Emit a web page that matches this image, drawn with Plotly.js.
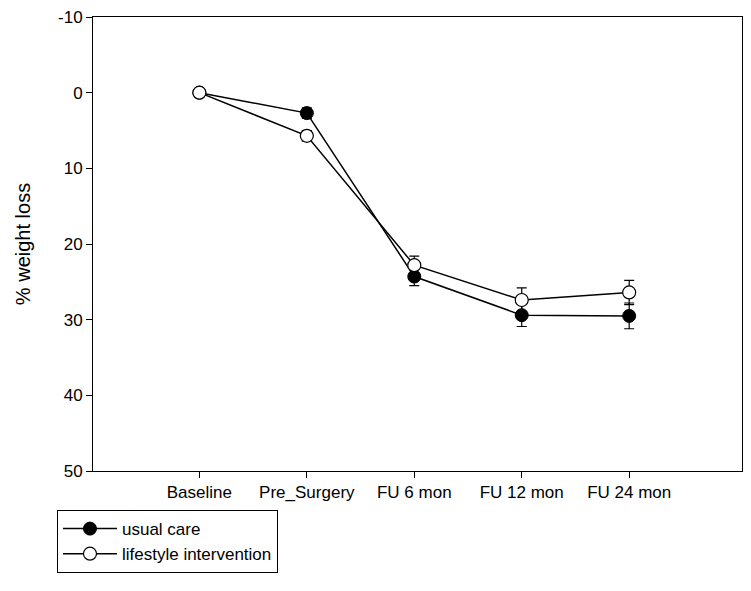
<!DOCTYPE html>
<html><head><meta charset="utf-8">
<script src="https://cdn.plot.ly/plotly-3.0.1.min.js"></script>
<style>html,body{margin:0;padding:0;background:#fff}</style>
</head><body><div id="chart" style="width:751px;height:591px"></div>
<script>
const categories = ["Baseline", "Pre_Surgery", "FU 6 mon", "FU 12 mon", "FU 24 mon"];
const usualCare = [0, 2.7, 24.3, 29.4, 29.5];
const usualCareErr = [0, 0.7, 1.2, 1.5, 1.7];
const lifestyle = [0, 5.7, 22.8, 27.4, 26.4];
const lifestyleErr = [0, 0.7, 1.2, 1.6, 1.6];
const yTicks = [-10, 0, 10, 20, 30, 40, 50];
const yTickText = ["-10", "0", "10", "20", "30", "40", "50"];

const font = {family: "Liberation Sans, Arial, sans-serif", size: 17, color: "#000"};
const traces = [
  {x: categories, y: usualCare, name: "usual care", mode: "lines+markers",
   line: {color: "#000", width: 1.5},
   marker: {symbol: "circle", size: 13, color: "#000", line: {color: "#000", width: 1}},
   error_y: {type: "data", array: usualCareErr, visible: true, color: "#000", thickness: 1.2, width: 5}},
  {x: categories, y: lifestyle, name: "lifestyle intervention", mode: "lines+markers",
   line: {color: "#000", width: 1.5},
   marker: {symbol: "circle", size: 13, color: "#fff", line: {color: "#000", width: 1.2}},
   error_y: {type: "data", array: lifestyleErr, visible: true, color: "#000", thickness: 1.2, width: 5}}
];
const layout = {
  width: 751, height: 591,
  margin: {l: 93, r: 9, t: 17, b: 120},
  paper_bgcolor: "#fff", plot_bgcolor: "#fff",
  font: font,
  showlegend: true,
  legend: {x: -0.0555, y: -0.086, xanchor: "left", yanchor: "top", itemwidth: 54,
    bordercolor: "#000", borderwidth: 1, bgcolor: "#fff", font: font, tracegroupgap: 0},
  xaxis: {type: "category", range: [-0.99, 5.05], showgrid: false, zeroline: false,
    showline: true, linecolor: "#000", linewidth: 1, mirror: true,
    ticks: "outside", ticklen: 6, tickcolor: "#000", tickfont: font, automargin: false},
  yaxis: {range: [50, -10], tickvals: yTicks, ticktext: yTickText, showgrid: false, zeroline: false,
    showline: true, linecolor: "#000", linewidth: 1, mirror: true,
    ticks: "outside", ticklen: 6, tickcolor: "#000", tickfont: font, automargin: false,
    title: {text: "% weight loss", font: {family: font.family, size: 20, color: "#000"}, standoff: 22}}
};
Plotly.newPlot("chart", traces, layout, {displayModeBar: false});
</script></body></html>
